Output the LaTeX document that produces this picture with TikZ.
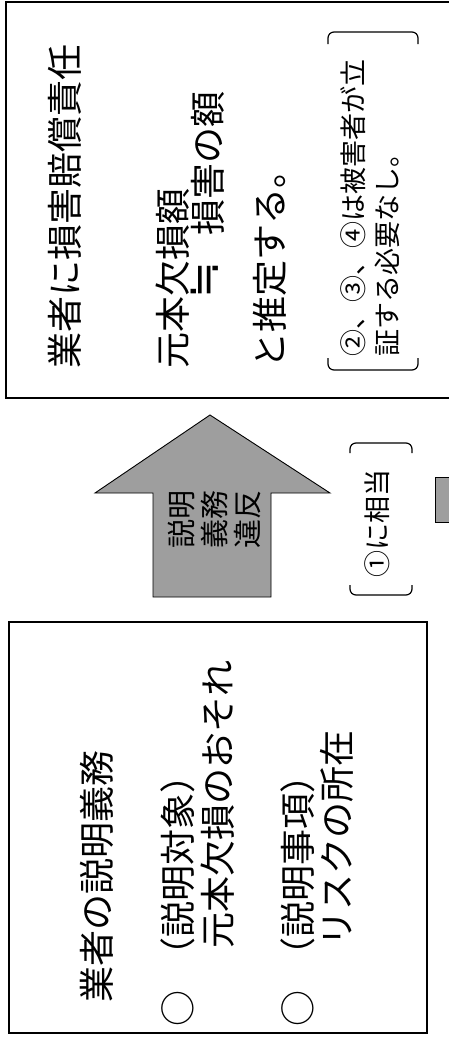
\documentclass[tikz,border=0pt]{standalone}
\usepackage{fontspec}
\setmainfont{Noto Sans CJK JP}
\newfontfamily\symfont{DejaVu Sans}
\begin{document}
\begin{tikzpicture}[x=1pt,y=-1pt,
  big/.style={font=\fontsize{36pt}{40pt}\selectfont, rotate=90, inner sep=0pt},
  mid/.style={font=\fontsize{29pt}{32pt}\selectfont, rotate=90, inner sep=0pt},
  small/.style={font=\fontsize{27pt}{30pt}\selectfont, rotate=90, inner sep=0pt},
  boxline/.style={draw=black, line width=1.4pt},
  bracketline/.style={draw=black, line width=1.2pt, rounded corners=6pt},
  greyfill/.style={fill=black!38, draw=black, line width=0.9pt}]
\path[use as bounding box, clip] (0,0) rectangle (449,1039);
\fill[white] (0,0) rectangle (449,1039);

% top box
\draw[boxline] (6,2) rectangle (470,398);
\node[big, anchor=west] (t1) at (65,369) {業者に損害賠償責任};
\node[big, anchor=west] (t2) at (173,369) {元本欠損額};
\node[rotate=90, inner sep=0pt, font=\symfont\fontsize{44pt}{48pt}\selectfont] (t3a) at (205,280) {≒};
\node[big, anchor=east] (t3b) at (208,91) {損害の額};
\node[big, anchor=west] (t4) at (270,369) {と推定する。};
\draw[bracketline] (328,44) -- (328,32) -- (418,32) -- (418,44);
\draw[bracketline] (328,358) -- (328,370) -- (418,370) -- (418,358);
\node[small, anchor=west] (t5) at (353,357) {②、③、④は被害者が立};
\node[small, anchor=west] (t6) at (387,357) {証する必要なし。};

% arrow
\draw[greyfill, line join=miter] (210,415) -- (330,493) -- (271,493) -- (271,597)
  -- (153,597) -- (153,493) -- (95,493) -- cycle;
\node[mid] (a1) at (182,519) {説明};
\node[mid] (a2) at (214,519) {義務};
\node[mid] (a3) at (247,519) {違反};

% bracket 1
\draw[bracketline] (350,453) -- (350,443) -- (412,443) -- (412,453);
\draw[bracketline] (350,585) -- (350,595) -- (412,595) -- (412,585);
\node[small] (b1) at (377,523) {①に相当};

% small grey rectangle
\draw[greyfill] (435,477) rectangle (460,522);

% bottom box
\draw[boxline] (9,622) rectangle (427,1033);
\node[big, anchor=west] (s1) at (97,1003) {業者の説明義務};
\node[big] (c1) at (178,1008) {○};
\node[big, anchor=west] (s2) at (178,974) {（説明対象）};
\node[big, anchor=west] (s3) at (218,949) {元本欠損のおそれ};
\node[big] (c2) at (298,1008) {○};
\node[big, anchor=west] (s4) at (298,974) {（説明事項）};
\node[big, anchor=west] (s5) at (337,947) {リスクの所在};
\end{tikzpicture}
\end{document}
